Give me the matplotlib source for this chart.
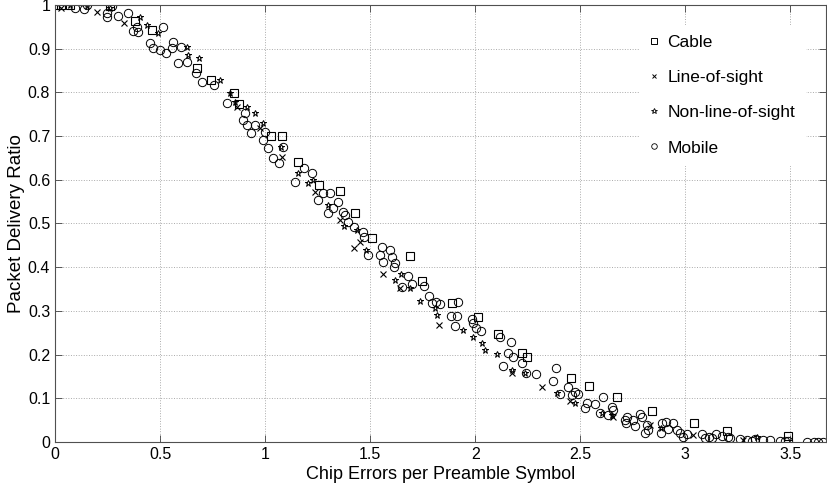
"""Packet delivery ratio vs chip errors per preamble symbol (scatter, four link types)."""

import matplotlib
matplotlib.use("Agg")
import matplotlib.pyplot as plt
from matplotlib.lines import Line2D

plt.rcParams["font.family"] = ["Liberation Sans", "DejaVu Sans"]

# Cable (squares)
cable_x = [0.0, 0.03, 0.07, 0.26, 0.38, 0.46, 0.675, 0.743, 0.853, 0.877, 1.027, 1.08,
           1.156, 1.257, 1.357, 1.43, 1.51, 1.69, 1.747, 1.89, 2.015, 2.11, 2.224, 2.245,
           2.457, 2.543, 2.676, 2.843, 3.043, 3.2, 3.486]
cable_y = [1.0, 1.0, 1.0, 0.997, 0.963, 0.942, 0.855, 0.828, 0.798, 0.773, 0.699, 0.699,
           0.641, 0.588, 0.574, 0.523, 0.467, 0.426, 0.369, 0.318, 0.286, 0.247, 0.204, 0.195,
           0.146, 0.128, 0.103, 0.071, 0.043, 0.025, 0.014]

# Line-of-sight (x)
los_x = [0.03, 0.2, 0.33, 0.866, 0.976, 1.08, 1.238, 1.357, 1.424, 1.452, 1.56, 1.64,
         1.829, 2.176, 2.318, 2.452, 2.657, 2.833, 3.038, 3.276]
los_y = [0.993, 0.984, 0.958, 0.766, 0.718, 0.652, 0.572, 0.507, 0.444, 0.458, 0.384, 0.352,
         0.268, 0.158, 0.126, 0.094, 0.057, 0.039, 0.017, 0.005]

# Non-line-of-sight (stars)
nlos_x = [0.07, 0.15, 0.26, 0.405, 0.438, 0.49, 0.628, 0.633, 0.686, 0.786, 0.833, 0.857,
          0.914, 0.952, 0.99, 1.076, 1.157, 1.205, 1.229, 1.3, 1.376, 1.438, 1.481, 1.619,
          1.648, 1.69, 1.738, 1.81, 1.819, 1.943, 1.99, 2.033, 2.048, 2.105, 2.176, 2.238,
          2.39, 2.476, 2.605, 2.652, 2.886, 3.343]
nlos_y = [1.0, 0.997, 0.993, 0.973, 0.954, 0.936, 0.904, 0.886, 0.878, 0.828, 0.798, 0.778,
          0.767, 0.753, 0.73, 0.675, 0.615, 0.592, 0.6, 0.542, 0.494, 0.485, 0.439, 0.371,
          0.384, 0.352, 0.323, 0.306, 0.291, 0.256, 0.24, 0.226, 0.21, 0.201, 0.165, 0.158,
          0.112, 0.09, 0.066, 0.062, 0.033, 0.011]

# Mobile (circles)
mobile_x = [0.095, 0.15, 0.14, 0.247, 0.27, 0.248, 0.3, 0.348, 0.371, 0.395, 0.39,
            0.514, 0.452, 0.467, 0.5, 0.527, 0.562, 0.557, 0.586, 0.6, 0.627, 0.671, 0.7,
            0.757, 0.819, 0.905, 0.895, 0.914, 0.933, 0.952, 1.0, 0.99, 1.014, 1.038, 1.067,
            1.086, 1.143, 1.186, 1.224, 1.252, 1.276, 1.31, 1.3, 1.324, 1.348, 1.371, 1.381,
            1.395, 1.424, 1.467, 1.471, 1.49, 1.548, 1.557, 1.562, 1.595, 1.605, 1.619, 1.614,
            1.652, 1.681, 1.7, 1.757, 1.781, 1.795, 1.814, 1.833, 1.886, 1.914, 1.905, 1.919,
            1.986, 1.99, 2.005, 2.029, 2.119, 2.171, 2.157, 2.181, 2.133, 2.224, 2.243, 2.29,
            2.386, 2.371, 2.405, 2.443, 2.462, 2.476, 2.49, 2.524, 2.533, 2.571, 2.61, 2.595,
            2.633, 2.652, 2.655, 2.714, 2.724, 2.716, 2.752, 2.762, 2.786, 2.795, 2.81, 2.819,
            2.824, 2.886, 2.89, 2.91, 2.919, 2.943, 2.962, 2.976, 2.99, 3.01, 3.081, 3.095,
            3.11, 3.129, 3.148, 3.176, 3.205, 3.214, 3.262, 3.295, 3.319, 3.333, 3.367, 3.405,
            3.452, 3.476, 3.49, 3.581, 3.61, 3.633, 3.657]
mobile_y = [0.993, 1.0, 0.99, 0.981, 0.997, 0.973, 0.975, 0.981, 0.941, 0.938, 0.95,
            0.95, 0.913, 0.901, 0.897, 0.89, 0.915, 0.901, 0.867, 0.904, 0.87, 0.845, 0.824,
            0.817, 0.775, 0.752, 0.737, 0.725, 0.707, 0.725, 0.71, 0.69, 0.672, 0.649, 0.638,
            0.675, 0.595, 0.626, 0.615, 0.553, 0.569, 0.569, 0.523, 0.535, 0.55, 0.527, 0.519,
            0.503, 0.492, 0.48, 0.469, 0.428, 0.428, 0.446, 0.412, 0.439, 0.424, 0.41, 0.4,
            0.355, 0.38, 0.362, 0.357, 0.334, 0.318, 0.32, 0.316, 0.288, 0.288, 0.265, 0.32,
            0.281, 0.272, 0.261, 0.254, 0.24, 0.229, 0.204, 0.195, 0.174, 0.181, 0.158, 0.156,
            0.169, 0.14, 0.11, 0.126, 0.108, 0.114, 0.11, 0.078, 0.089, 0.087, 0.103, 0.066,
            0.062, 0.08, 0.073, 0.05, 0.057, 0.043, 0.05, 0.037, 0.064, 0.057, 0.021, 0.039,
            0.027, 0.021, 0.043, 0.046, 0.03, 0.043, 0.027, 0.021, 0.011, 0.018, 0.018, 0.009,
            0.011, 0.009, 0.018, 0.014, 0.011, 0.009, 0.007, 0.005, 0.002, 0.007, 0.005, 0.005,
            0.002, 0.002, 0.002, 0.0, 0.0, 0.0, 0.0]

labels = ["Cable", "Line-of-sight", "Non-line-of-sight", "Mobile"]
x_ticks = [0, 0.5, 1, 1.5, 2, 2.5, 3, 3.5]
x_tick_labels = ["0", "0.5", "1", "1.5", "2", "2.5", "3", "3.5"]
y_ticks = [0, 0.1, 0.2, 0.3, 0.4, 0.5, 0.6, 0.7, 0.8, 0.9, 1.0]
y_tick_labels = ["0", "0.1", "0.2", "0.3", "0.4", "0.5", "0.6", "0.7", "0.8", "0.9", "1"]

fig = plt.figure(figsize=(8.27, 4.91), dpi=100)
ax = fig.add_axes([0.0665, 0.0998, 0.9325, 0.8902])

kw = dict(linestyle="none", color="black", markerfacecolor="none")
ax.plot(mobile_x, mobile_y, marker="o", markersize=6, markeredgewidth=0.7, **kw)
ax.plot(cable_x, cable_y, marker="s", markersize=5.5, markeredgewidth=0.8, **kw)
ax.plot(los_x, los_y, marker="x", markersize=4.5, markeredgewidth=0.8, **kw)
ax.plot(nlos_x, nlos_y, marker="*", markersize=5, markeredgewidth=0.7, **kw)

ax.set_xlim(0, 3.67)
ax.set_ylim(0, 1.0)
ax.set_xticks(x_ticks, x_tick_labels)
ax.set_yticks(y_ticks, y_tick_labels)
ax.tick_params(direction="in", top=True, right=True, labelsize=11.5, length=5, width=0.6, color="#404040")
ax.grid(True, linestyle=":", color="#aaaaaa", linewidth=0.7)
for sp in ax.spines.values():
    sp.set_color("#505050")
    sp.set_linewidth(0.8)
ax.set_xlabel("Chip Errors per Preamble Symbol", fontsize=13, labelpad=3)
ax.set_ylabel("Packet Delivery Ratio", fontsize=13.5, labelpad=2)

handles = [
    Line2D([], [], marker="s", markersize=4, markeredgewidth=0.7, **kw),
    Line2D([], [], marker="x", markersize=3.5, markeredgewidth=0.7, **kw),
    Line2D([], [], marker="*", markersize=4, markeredgewidth=0.6, **kw),
    Line2D([], [], marker="o", markersize=4, markeredgewidth=0.6, **kw),
]
leg = ax.legend(handles, labels, loc="upper left", bbox_to_anchor=(0.757, 0.955), fontsize=12.5,
                frameon=True, fancybox=False, framealpha=1.0, edgecolor="none", facecolor="white",
                handlelength=0.6, handletextpad=0.45, labelspacing=1.15, borderaxespad=0.0,
                borderpad=0.6)

fig.savefig("out.png", dpi=100)
